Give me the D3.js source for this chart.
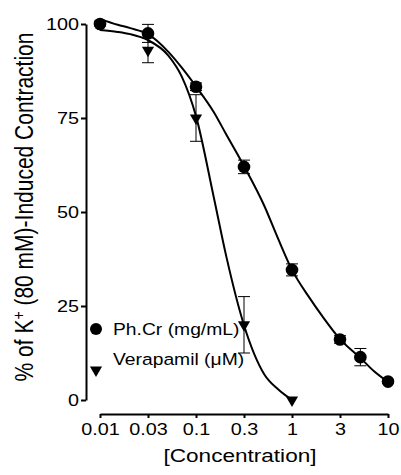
<!DOCTYPE html>
<html>
<head>
<meta charset="utf-8">
<script src="https://cdn.jsdelivr.net/npm/d3@7"></script>
<style>
  body { margin: 0; background: #fff; }
  svg { display: block; font-family: "Liberation Sans", Arial, sans-serif; }
</style>
</head>
<body>
<svg id="chart" width="401" height="475"></svg>
<script>
// x ticks (the axis is drawn with equal spacing between ticks, log inside each step)
const xTicks = [0.01, 0.03, 0.1, 0.3, 1, 3, 10];
const yTicks = [0, 25, 50, 75, 100];

// Ph.Cr (mg/mL): mean and SEM
const phcrConc = [0.01, 0.03, 0.1, 0.3, 1, 3, 5, 10];
const phcrMean = [100, 97.5, 83.3, 62, 34.6, 16.1, 11.4, 4.9];
const phcrSem = [0.5, 2.4, 1.0, 1.8, 1.6, 1.0, 2.3, 0.5];

// Verapamil (uM): mean and SEM
const verConc = [0.01, 0.03, 0.1, 0.3, 1];
const verMean = [100, 93, 75, 20, 0];
const verSem = [0.5, 3.3, 6.2, 7.5, 0];

// fitted curves
const phcrFitConc = [0.01, 0.015, 0.02, 0.03, 0.05, 0.07, 0.1, 0.15, 0.2, 0.3, 0.5, 0.7, 1, 1.5, 2, 3, 5, 7, 10];
const phcrFit = [101.3, 99.8, 98.9, 97.3, 92.6, 88.4, 83.4, 76.6, 70.6, 62.2, 51.6, 43.1, 34.6, 27.1, 22.3, 16.2, 11.2, 7.7, 4.8];
const verFitConc = [0.01, 0.015, 0.02, 0.03, 0.05, 0.07, 0.1, 0.15, 0.2, 0.3, 0.5, 0.7, 1];
const verFit = [98.4, 97.9, 97.3, 95.7, 91.6, 86.0, 75.5, 54.0, 38.2, 19.9, 6.8, 2.9, 0];

const view = {
  xLeft: 100, xRight: 388,
  yTop: 24, yBottom: 400,
  yAxisX: 86, xAxisY: 414,
  sx: 1.2 // the picture's text is a bit wider than tall
};

const svg = d3.select("#chart");

const x = d3.scaleLog()
  .domain(xTicks)
  .range(xTicks.map((d, i) => view.xLeft + i * (view.xRight - view.xLeft) / (xTicks.length - 1)));

const y = d3.scaleLinear()
  .domain([0, 100])
  .range([view.yBottom, view.yTop]);

// Y axis
const yAxis = svg.append("g")
  .attr("transform", `translate(${view.yAxisX},0)`)
  .call(d3.axisLeft(y).tickValues(yTicks).tickSize(5).tickSizeOuter(0));
yAxis.select(".domain").attr("stroke-width", 2);
yAxis.selectAll(".tick line").attr("stroke-width", 2);
yAxis.selectAll(".tick text")
  .attr("x", null)
  .attr("transform", `translate(-7,0) scale(${view.sx},1)`)
  .attr("font-size", 16.5)
  .attr("font-family", null)
  .attr("fill", "#000");

// X axis
const xAxis = svg.append("g")
  .attr("transform", `translate(0,${view.xAxisY})`)
  .call(d3.axisBottom(x).tickValues(xTicks).tickFormat(d => String(d)).tickSize(4).tickSizeOuter(0));
xAxis.select(".domain").attr("stroke-width", 2);
xAxis.selectAll(".tick line").attr("stroke-width", 2);
xAxis.selectAll(".tick text")
  .attr("y", null)
  .attr("dy", null)
  .attr("transform", `translate(0,21) scale(${view.sx},1)`)
  .attr("font-size", 16.5)
  .attr("font-family", null)
  .attr("fill", "#000");

// axis titles
svg.append("text")
  .attr("transform", `translate(240,462) scale(1.22,1)`)
  .attr("text-anchor", "middle")
  .attr("font-size", 18.5)
  .text("[Concentration]");

const yTitle = svg.append("text")
  .attr("transform", `translate(33,207) scale(${view.sx},1) rotate(-90)`)
  .attr("text-anchor", "middle")
  .attr("font-size", 21);
yTitle.append("tspan").text("% of K");
yTitle.append("tspan").attr("baseline-shift", "super").attr("font-size", 14).text("+");
yTitle.append("tspan").text(" (80 mM)-Induced Contraction");

// curves
const line = d3.line()
  .x(d => x(d[0]))
  .y(d => y(d[1]))
  .curve(d3.curveMonotoneX);

const plot = svg.append("g");

function errorBars(conc, mean, sem) {
  const g = plot.append("g").attr("stroke", "#000").attr("stroke-width", 1);
  conc.forEach((c, i) => {
    if (!sem[i]) return;
    const cx = x(c), y1 = y(mean[i] - sem[i]), y2 = y(mean[i] + sem[i]);
    g.append("line").attr("x1", cx).attr("x2", cx).attr("y1", y1).attr("y2", y2);
    g.append("line").attr("x1", cx - 6).attr("x2", cx + 6).attr("y1", y1).attr("y2", y1);
    g.append("line").attr("x1", cx - 6).attr("x2", cx + 6).attr("y1", y2).attr("y2", y2);
  });
}

errorBars(verConc, verMean, verSem);
errorBars(phcrConc, phcrMean, phcrSem);

plot.append("path")
  .datum(verFitConc.map((c, i) => [c, verFit[i]]))
  .attr("fill", "none").attr("stroke", "#000").attr("stroke-width", 2)
  .attr("d", line);

plot.append("path")
  .datum(phcrFitConc.map((c, i) => [c, phcrFit[i]]))
  .attr("fill", "none").attr("stroke", "#000").attr("stroke-width", 2)
  .attr("d", line);

const tri = d3.symbol().type(d3.symbolTriangle).size(64);

plot.append("g")
  .selectAll("path")
  .data(verConc.map((c, i) => [c, verMean[i]]))
  .join("path")
  .attr("d", tri)
  .attr("transform", d => `translate(${x(d[0])},${y(d[1])}) rotate(180)`)
  .attr("fill", "#000");

plot.append("g")
  .selectAll("circle")
  .data(phcrConc.map((c, i) => [c, phcrMean[i]]))
  .join("circle")
  .attr("cx", d => x(d[0]))
  .attr("cy", d => y(d[1]))
  .attr("r", 6.3)
  .attr("fill", "#000");

// legend
const legend = svg.append("g");
legend.append("circle").attr("cx", 96).attr("cy", 329).attr("r", 6).attr("fill", "#000");
legend.append("path").attr("d", tri).attr("transform", "translate(96,370) rotate(180)").attr("fill", "#000");
legend.append("text")
  .attr("transform", `translate(113,335) scale(1.17,1)`)
  .attr("font-size", 16.5)
  .text("Ph.Cr (mg/mL)");
legend.append("text")
  .attr("transform", `translate(113,365) scale(1.17,1)`)
  .attr("font-size", 16.5)
  .text("Verapamil (\u03bcM)");
</script>
</body>
</html>
